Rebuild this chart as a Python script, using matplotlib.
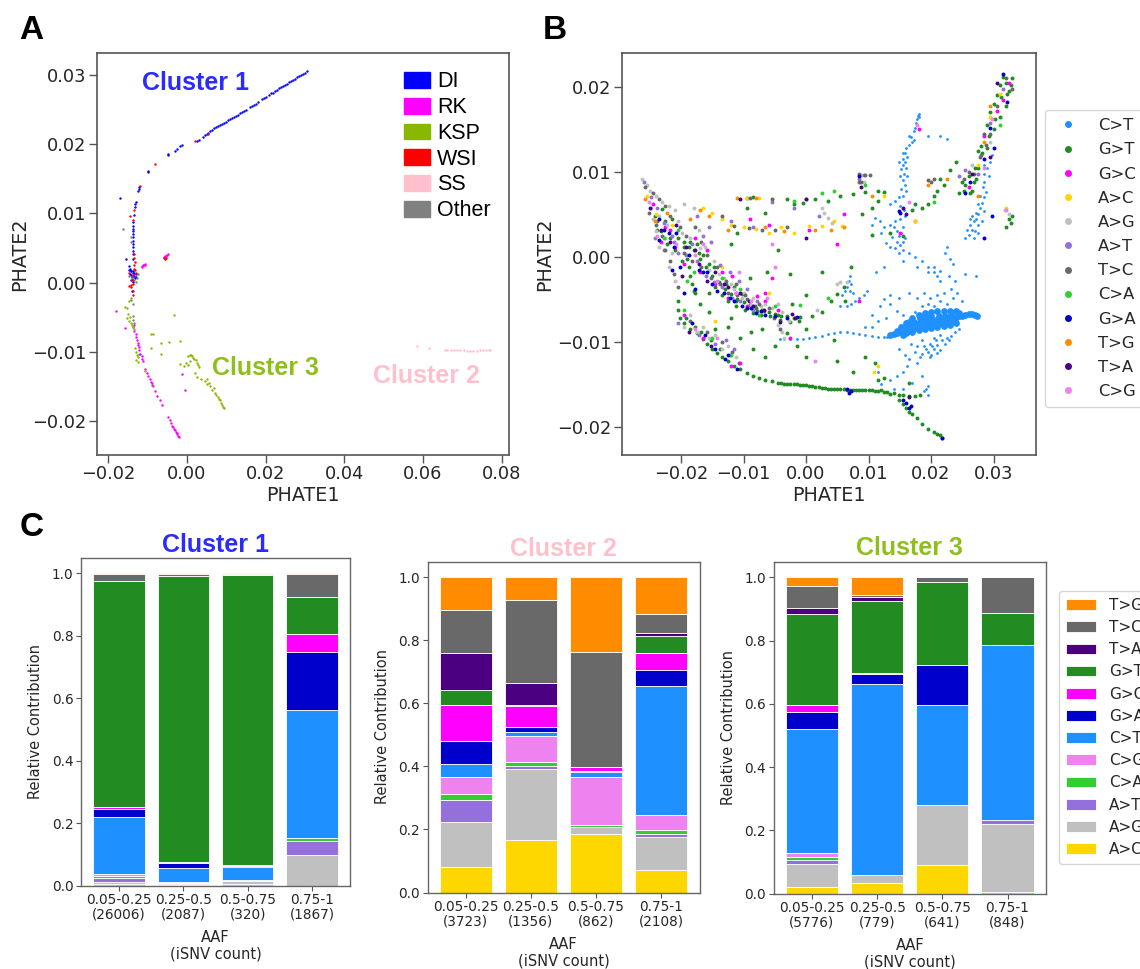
import matplotlib
matplotlib.use("Agg")
import matplotlib.pyplot as plt
from matplotlib.lines import Line2D
from matplotlib.patches import Patch
import numpy as np

W, H = 1140, 969
TXT = "#262626"
SPINE = "#555555"

# panel A points
DI = [(.0025,.0205),(.0032,.0207),(.004,.0211),(.0045,.0213),(.005,.0215),(.0055,.0217),(.006,.0219),(.0065,.0221),(.007,.0223),(.0075,.0225),
      (.008,.0226),(.0085,.0228),(.009,.0229),(.0095,.0231),(.010,.0232),(.0105,.0235),(.011,.0237),(.0115,.0238),(.012,.0240),(.0125,.0241),
      (.013,.0243),(.0135,.0245),(.014,.0247),(.0145,.0249),(.015,.025),(.016,.0254),(.0165,.0256),(.017,.0257),(.0175,.0259),
      (.018,.0261),(.019,.0265),(.0195,.0267),(.020,.0268),(.021,.0272),(.0215,.0274),(.022,.0275),(.0225,.0277),
      (.023,.0279),(.0235,.0281),(.024,.0283),(.0245,.0285),(.025,.0286),(.0255,.0288),(.026,.029),(.0265,.0292),(.027,.0293),(.0275,.0295),
      (.028,.0297),(.0285,.0299),(.029,.03),(.0295,.0302),(.030,.0304),(.0305,.0306),
      (-.0047,.0186),(-.0047,.0184),(-.003,.0191),(-.0025,.0193),(-.0018,.0197),(-.0011,.0199),(-.0099,.016),(-.0098,.0162),
      (-.0121,.0139),(-.0122,.0135),(-.0123,.0133),(-.017,.0122),(-.0129,.0117),(-.0131,.0113),(-.0132,.0109),(-.0135,.0098),
      (-.0136,.0088),(-.0137,.0082),(-.0137,.0078),(-.0138,.0074),(-.0137,.007),(-.0138,.0066),(-.0138,.006),(-.0137,.0056),(-.0137,.0052),(-.0136,.0046),
      (-.0137,.0042),(-.0137,.0034),(-.0155,.0034),(-.0148,.0024),(-.0144,.002),(-.0142,.0016),(-.0138,.0014),(-.0145,.0012),(-.0134,.001),(-.014,.0008),
      (-.0132,.0006),(-.0138,.0004),(-.0142,.0016),(-.013,.0012),(-.0136,.0001),(-.0139,-.0012),(-.0147,.0018),(-.0141,.0011),(-.0128,.0008),(-.0136,.0016),(-.0133,.0014),(-.0143,.0003)]
RK = [(-.0127,-.0083),(-.0125,-.0087),(-.0124,-.009),(-.0122,-.0094),(-.0121,-.0097),(-.0118,-.0103),(-.0115,-.0106),(-.0113,-.011),(-.0111,-.0114),(-.0107,-.0125),
      (-.0102,-.0131),(-.0098,-.0135),(-.0094,-.014),(-.0092,-.0144),(-.0088,-.0149),(-.0082,-.0157),(-.0076,-.0165),(-.0068,-.017),(-.0064,-.0178),(-.0047,-.0195),
      (-.0044,-.0199),(-.004,-.0203),(-.0037,-.0207),(-.0035,-.0209),(-.0032,-.0212),(-.003,-.0214),(-.0028,-.0216),(-.0026,-.0218),(-.0024,-.022),(-.0022,-.0222),(-.0021,-.0223),
      (-.018,-.0041),(-.0158,-.0066),(-.0135,-.0062),(-.0133,-.007),(-.013,-.0075),(-.0128,-.0079),
      (-.0115,.0023),(-.0113,.0024),(-.0111,.0025),(-.0109,.0025),(-.0107,.0026),(-.0105,.0027),
      (-.0059,.0037),(-.0056,.0038),(-.0053,.0039),(-.005,.004),(-.0049,.0041),(-.0012,-.0133),(-.0005,-.0156)]
KSP = [(.0003,-.0107),(.0007,-.0105),(.001,-.0105),(.0014,-.0106),(.0016,-.0109),(.0019,-.0111),(.0023,-.0112),(.0026,-.0116),(.0029,-.0119),(.0031,-.0122),
       (-.0017,-.0118),(-.0008,-.0121),(-.0003,-.0117),(.0008,-.0114),(.0004,-.012),(.0022,-.0131),(.0026,-.0137),(.0035,-.0139),(.0045,-.0143),(.0051,-.014),
       (.0052,-.0147),(.0056,-.0146),(.0059,-.015),(.0064,-.0155),(.0068,-.0152),(.0072,-.016),(.0075,-.0163),(.0078,-.0166),(.0081,-.0168),(.0084,-.017),
       (.0087,-.0174),(.009,-.0177),(.0093,-.018),(.0095,-.0182),
       (-.0032,-.0047),(-.0017,-.0085),(-.0045,-.0086),(-.0065,-.0087),(-.0092,-.0075),(-.0087,-.0074),(-.0091,-.0095),(-.0066,-.0104),
       (-.0157,-.0035),(-.0153,-.0037),(-.015,-.0045),(-.0152,-.0052),(-.0148,-.0055),(-.0145,-.005),(-.0143,-.0058),(-.014,-.0062),(-.0137,-.0065),(-.0134,-.0067),
       (-.0132,-.0095),(-.0128,-.01),(-.0127,-.0105),(-.0125,-.0108),(-.0129,-.0112),(-.0124,-.0115),(-.0105,-.0128),(-.0142,-.0022),(-.0146,-.0027)]
WSI = [(.0022,.0205),(.0055,.0215),(-.0082,.0171),(-.012,.014),(-.0134,.0105),(-.0145,.0097),(-.0137,.0091),(-.0135,.0042),(-.0135,.0036),(-.0132,.003),
       (-.0148,.0014),(-.0135,.002),(-.0131,.0018),(-.0128,.0014),(-.014,.0004),(-.0146,-.0005),(-.0142,-.0007),(-.0136,-.0002),(-.0138,-.0012),(-.0138,-.0018),
       (-.0055,.0034),(-.0057,.0036),(-.0053,.0035),(-.0134,.0026),(-.0136,.0011),(-.0141,-.0003)]
SS = [(.0585,-.0092),(.0615,-.0095),(.0655,-.0097),(.0662,-.0098),(.067,-.0098),(.068,-.0098),(.0687,-.0098),(.0695,-.0098),(.0703,-.0098),(.0712,-.0099),
      (.072,-.0099),(.0727,-.0099),(.0737,-.0099),(.0745,-.0098),(.0752,-.0098),(.076,-.0098),(.0767,-.0098),(.077,-.0098)]
OTHER = [(-.0161,.0077),(-.0143,.0066),(-.0142,.0058),(-.0146,.0009),(-.0139,.0006),(-.0133,.0003),(-.0127,.0006),(-.0125,.0012),(-.0142,-.0026),(-.0138,-.0031),
         (-.0137,-.0048),(-.0138,-.0054),(-.0134,-.0058),(-.0136,-.0064),(-.0088,-.0145),(-.0085,-.015),(-.0122,-.0103),(-.0128,.0001)]
GROUPS_A = ["DI", "RK", "KSP", "WSI", "SS", "Other"]
POINTS_A = [DI, OTHER, RK, KSP, SS, WSI]
POINT_COLORS_A = ["blue", "gray", "magenta", "#8ab800", "#ffc0cb", "red"]
LEGEND_COLORS_A = ["blue", "magenta", "#8ab800", "red", "#ffc0cb", "gray"]

# panel B points by substitution
CT = [(.0155,.0115),(.0158,.0122),(.016,.0128),(.0162,.0118),(.0165,.0132),(.0168,.0141),(.017,.0135),(.0172,.0148),(.0174,.0152),(.0176,.0158),(.0178,.0162),(.018,.0168),(.0181,.0165),(.0179,.0166),
      (.0155,.0108),(.0152,.0103),(.0157,.0098),(.015,.0095),(.0155,.009),(.0158,.0085),(.0152,.008),(.016,.0078),(.0155,.0072),(.0148,.007),(.0142,.0066),(.0135,.0062),(.015,.006),(.0156,.0055),(.0158,.0048),(.015,.0045),
      (.0142,.0042),(.0135,.0038),(.0125,.0035),(.0118,.0042),(.011,.0046),(.0105,.0038),(.0145,.003),(.0152,.0028),(.0138,.0024),(.0145,.0018),(.015,.0014),(.0142,.001),(.0155,.0008),(.0148,.0005),(.0128,.0016),(.012,.0028),
      (.0285,.0098),(.029,.0105),(.0295,.0112),(.0298,.012),(.0285,.0088),(.0283,.0082),(.0288,.0076),(.0285,.007),(.0282,.0063),(.0279,.0058),(.0285,.0054),(.0275,.005),(.0272,.0045),(.0268,.0042),(.0263,.0038),(.0275,.0038),(.0265,.0032),(.027,.003),(.026,.0026),(.0255,.0022),
      (.0225,.0012),(.0222,.0005),(.023,-.0002),(.0235,-.0008),(.0195,-.0018),(.0205,-.0018),(.021,-.0022),(.0215,-.0016),(.0155,-.0005),(.0178,-.0012),(.0125,-.0012),(.0112,-.0018),(.0272,-.0022),(.0255,-.002),
      (.007,-.0022),(.0068,-.0028),(.0072,-.0032),(.0065,-.0035),(.007,-.004),(.0062,-.004),(.0075,-.0042),(.0058,-.0045),(.0098,-.004),(.0092,-.0045),(.0085,-.0048),(.0078,-.0052),(.0072,-.0055),(.0065,-.0058),(.0055,-.0058),
      (-.0042,-.0096),(-.0035,-.0096),(-.0025,-.0097),(-.0015,-.0096),(-.0005,-.0096),(.0005,-.0095),(.0015,-.0094),(.0025,-.0093),(.0035,-.0091),(.0045,-.0089),(.0055,-.0088),(.0065,-.0088),(.0075,-.0089),(.0085,-.0091),(.0095,-.0092),(.0105,-.0093),(.0115,-.0094),(.0125,-.0094),(.013,-.0094),
      (.0175,-.0065),(.0185,-.0058),(.0195,-.0055),(.0205,-.0058),(.0215,-.0052),(.0225,-.0055),(.0235,-.0048),(.0155,-.0068),(.0145,-.0063),(.0135,-.0055),(.0125,-.005),(.025,-.0052),(.0205,-.0095),(.0215,-.0092),(.0225,-.0095),(.0185,-.0098),
      (.0198,-.0102),(.0205,-.0108),(.021,-.0103),(.0215,-.0109),(.0222,-.0102),(.0195,-.0112),(.02,-.0115),(.021,-.0113),(.0185,-.0114),(.0192,-.0108),(.0175,-.0112),(.0228,-.0098),(.0232,-.0093),(.0178,-.0125),(.0165,-.012),(.0155,-.0135),(.0145,-.014),(.0135,-.0145),(.017,-.0148),(.0185,-.014),(.0195,-.0152),(.0155,-.0155),(.014,-.0155),(.012,-.015),(.0115,-.0135),(.0195,-.0162),(.0188,-.0158),(.0192,-.0155),
      (.0165,-.0042),(.0178,-.0048),(.0188,-.0042),(.0198,-.0048),(.021,-.0045),(.022,-.0042),(.0232,-.0038),(.0242,-.0042),(.0148,-.0048),(.0135,-.0045),(.0118,-.0058),(.0105,-.0068),(.0115,-.0075),(.0128,-.0072),(.0095,-.0082),(.0105,-.0082),(.0148,-.0108),(.0158,-.0115),(.0168,-.0102),(.0162,-.0128),(.0178,-.0105),(.0188,-.0105),(.0202,-.0105),(.0198,-.0118),(.0182,-.0118),(.0208,-.0098),(.0218,-.0098),(.0238,-.0088),(.0245,-.0085),
      (.0155,.0035),(.0158,.0022),(.0135,.0012),(.0148,.0025),(.014,.0035),(.0155,.0018),(.0165,.0005),(.0175,.0),(.0185,-.0005),(.0195,-.0012),(.0205,-.0012),(.0215,-.0028),(.0228,-.0022),(.0238,-.0028),(.0265,.0048),(.0275,.0062),(.0278,.0072),(.0272,.0052),(.0262,.0045),(.0258,.0032),(.0268,.0022),(.0275,.0028),(.0282,.0042),(.0292,.0095),(.0285,.0108),
      (.0165,.0142),(.0195,.0142),(.0215,.0142),(.0225,.0139),(.0172,.0138),(.0155,.0122),(.0158,.0112),(.016,.0105),(.0162,.0095),(.0148,.0112)]
CT_CORE = [(.0135,-.0092),(.014,-.0091),(.0145,-.009),(.015,-.0088),(.0155,-.0086),(.016,-.0085),(.0165,-.0083),(.017,-.0081),(.0175,-.008),(.018,-.0078),(.0185,-.0076),(.019,-.0075),(.0195,-.0075),(.02,-.0074),(.0205,-.0074),(.021,-.0074),(.0215,-.0074),(.022,-.0075),(.0225,-.0074),(.023,-.0073),(.0235,-.0072),(.024,-.0071),(.0245,-.007),(.025,-.0069),(.0255,-.0068),(.026,-.0067),(.0265,-.0067),(.027,-.0068),(.0273,-.0069),
           (.016,-.0078),(.017,-.0072),(.018,-.0068),(.019,-.0066),(.02,-.0065),(.021,-.0064),(.022,-.0063),(.023,-.0064),(.024,-.0064),(.016,-.009),(.017,-.0088),(.018,-.0086),(.019,-.0085),(.02,-.0084),(.021,-.0082),(.022,-.0081),(.023,-.008),(.024,-.0078),(.0155,-.0092),(.0165,-.0076),
           (.0145,-.0087),(.0152,-.0082),(.0158,-.0082),(.0165,-.0087),(.0172,-.0077),(.0175,-.0084),(.0182,-.0072),(.0185,-.0082),(.0192,-.0071),(.0195,-.008),(.02,-.007),(.0205,-.0079),(.0212,-.0069),(.0215,-.0078),(.0222,-.0069),(.0228,-.0077),(.0232,-.0068),(.0238,-.0075),(.0245,-.0066)]
GT = [(-.0205,-.0052),(-.0205,-.0062),(-.0202,-.0072),(-.0195,-.0078),(-.0185,-.0085),(-.0175,-.009),(-.0165,-.0096),(-.0158,-.0102),(-.015,-.0108),(-.0142,-.0113),(-.0135,-.0118),(-.0125,-.0122),(-.0115,-.0128),(-.0105,-.0132),(-.0095,-.0137),(-.0085,-.014),(-.0075,-.0142),(-.0065,-.0145),(-.0055,-.0146),(-.0045,-.0148),
      (-.004,-.0148),(-.0035,-.0149),(-.003,-.0149),(-.0025,-.015),(-.002,-.015),(-.0015,-.015),(-.001,-.0151),(-.0005,-.0151),(.0,-.0151),(.0005,-.0152),(.001,-.0152),(.0015,-.0153),(.002,-.0153),(.0025,-.0154),(.003,-.0154),(.0035,-.0155),(.004,-.0155),(.0045,-.0155),(.005,-.0155),(.0055,-.0155),(.006,-.0155),(.0065,-.0156),(.007,-.0156),(.0075,-.0156),(.008,-.0156),(.0085,-.0156),(.009,-.0157),(.0095,-.0157),(.01,-.0157),(.0105,-.0157),(.011,-.0158),(.0115,-.0158),(.012,-.0157),(.0125,-.0159),(.013,-.0159),(.0135,-.0161),(.014,-.016),(.0148,-.0162),(.0155,-.0162),(.0165,-.0163),(.0175,-.0163),(.0182,-.0162),
      (.0148,-.0168),(.0155,-.0173),(.016,-.0178),(.0165,-.0182),(.017,-.0185),(.0178,-.019),(.0185,-.0196),(.0195,-.0202),(.0205,-.0206),(.021,-.0208),(.0215,-.021),(.0218,-.0213),
      (-.0195,.0012),(-.019,-.0002),(-.0188,-.0012),(-.0185,-.0022),(-.0182,-.0032),(-.018,-.004),(-.0178,-.0042),
      (-.023,.0056),(-.0215,.0045),(-.0205,.0022),(-.0195,.0018),(-.018,.0008),(-.017,-.0002),(-.016,-.0012),(-.015,-.0022),(-.014,-.003),(-.013,-.0038),(-.012,-.0044),(-.011,-.0049),(-.01,-.0053),(-.009,-.0056),(-.008,-.006),(-.007,-.0062),(-.006,-.0065),(-.005,-.0067),(-.004,-.007),(-.003,-.007),(-.002,-.0072),(-.001,-.0071),(.001,-.007),(.0025,-.0065),(.004,-.0052),(.005,-.0044),(.006,-.0035),
      (.0255,.0085),(.026,.0095),(.027,.0105),(.0275,.0125),(.028,.013),(.0285,.0145),(.029,.0155),(.0295,.017),(.03,.018),(.0305,.019),(.031,.0202),(.0315,.0212),(.032,.0205),(.0325,.0195),(.033,.021),(.032,.0178),(.031,.0165),(.03,.015),(.029,.0128),(.0275,.0105),(.0265,.0078),(.0245,.0075),(.025,.0088),(.023,.0102),(.024,.0112),(.022,.0085),(.021,.0078),(.0205,.0072),(.0195,.0062),(.0185,.0058),
      (.0215,.0092),(.017,.0055),(.0135,.0028),(.0105,.0026),(.009,.005),(.0105,.0058),(.0115,.0066),(.0125,.0076),(.0115,.0078),(.0095,.0076),(.0075,.0074),(.0055,.0072),(.0035,.0066),(.0015,.0068),(-.0005,.0064),(-.002,.0062),(-.003,.0068),(-.0095,.0069),(-.0085,.007),(-.0095,.0058),(-.0065,.0052),(-.011,.0028),(-.012,.0015),
      (.0325,.0045),(.033,.0048),(.0328,.004),(.032,.0035),(-.0115,-.0035),(-.009,-.0025),(-.007,-.0085),(-.005,-.0105),(-.003,-.009),(.0,-.0085),(.005,-.0122),(.0075,-.0135),(.011,-.0125),(-.0155,-.0065),(-.0145,-.0085),(-.012,-.0072),(-.017,-.0055),(.0155,.0025),(.0175,.0062),(.0165,-.0148),(.0125,-.0142),(-.0045,.0008),(-.0025,-.002),
      (-.0225,.0042),(-.0238,.0032),(-.0222,.0015),(-.021,.0008),(-.0198,-.0005),(-.0188,.0012),(-.0175,.0015),(-.0165,.0002),(-.0155,-.0008),(-.0145,-.0035),(-.0135,-.0045),(-.0125,-.0052),(-.0112,-.0058),(-.0098,-.0062),(-.0085,-.0066),(-.0072,-.0068),(-.0058,-.0069),(-.0042,-.0074),(-.0025,-.0076),(-.0012,-.0075),(-.0192,-.0072),(-.0178,-.0082),(-.0168,-.0088),(-.0152,-.0098),(-.0138,-.0108),(-.0122,-.0115),(-.0108,-.0125),(.0062,-.0052),(.0072,-.0012),(-.0155,-.0042),(-.0125,-.0082),(-.0105,-.0095),(-.0085,-.0108),(-.0065,-.0118),(-.0045,-.0068),(-.0022,-.0055),(.0,-.0045),(.0025,-.0018),(-.0062,-.0018),(-.0088,-.0088),(.0095,-.0118),(.0115,-.0145),(.0045,-.0098),(-.0015,-.0105),(.0,-.0118),
      (-.0242,.0048),(-.0232,.003),(-.0218,.0022),(-.0185,.0018),(-.0172,.0005),(-.0148,-.0012),(-.0128,-.0032),(-.0102,-.0044),(-.0078,-.0064),(-.0112,-.0052),(.0268,.0088),(.0282,.0122),(.0292,.0142),(.0302,.0162),(.0312,.0188),(.0322,.0192),(.0328,.0202),(.0272,.0092),(.0262,.0075),(.0252,.0078)]
GC = [(-.0245,.0062),(-.0225,.0035),(-.021,.0012),(-.0195,-.0008),(-.017,-.0018),(-.0145,-.0032),(-.0125,-.0048),(-.0095,-.0058),(-.0065,-.0052),(-.0045,-.0062),(-.009,.0045),(-.006,.0038),(.0005,.0032),(.006,.005),(.015,.0028),(.026,.0082),(.0285,.0142),(.0305,.0172),(.0315,.0185),(.0325,.0205),
      (-.0195,-.0068),(-.0165,-.0095),(-.012,-.0128),(-.0105,-.0125),(-.0055,-.0025),(-.0025,-.0095),(.005,.0015),(.0085,-.0052),(.0175,.0042),(.018,.015),(-.0232,.0018),(-.0218,.0032),(-.0178,.0022),(-.0158,.0008),(-.0118,-.0022),(-.0078,-.0046),(-.0135,-.0018),(-.0065,-.0042)]
AC = [(-.0255,.0072),(-.024,.005),(-.0215,.0038),(-.0165,.0058),(-.015,.0052),(-.0135,.0045),(-.012,.0038),(-.01,.0035),(-.008,.0033),(-.006,.0028),(-.004,.0035),(-.002,.0028),(.0005,.0036),(.0025,.0036),(.0045,.0042),(.0058,.0036),(-.0095,.0069),(-.0075,.0069),(-.0055,.0068),(-.0145,-.0075),
      (.0115,-.0128),(.0108,-.0135),(.031,.0192),(.0295,.0165),(.0275,.0108),(.032,.0058),(.0175,.0042),(.0125,.0072),(-.0135,-.0012),(-.006,-.0042)]
AG = [(-.0262,.0092),(-.0255,.0085),(-.025,.0078),(-.024,.0072),(-.023,.0065),(-.022,.006),(-.021,.0055),(-.0195,.0062),(-.018,.0058),(-.0245,.0045),(-.024,.003),(-.0235,.0012),(-.0225,.0022),(-.0215,.0005),(-.022,-.0012),(-.021,-.0028),(-.017,.001),(-.0155,-.0015),(-.014,-.002),(-.012,-.0032),
      (-.01,-.0042),(-.0085,-.0048),(-.0065,-.0055),(-.0045,-.0055),(-.0028,-.0075),(-.0045,-.008),(-.0038,-.0088),(-.0035,-.0095),(.0025,.0058),(.0028,.0052),(.0035,.0046),(.0042,.004),(.005,-.0032),(.0055,-.003),(.0318,.0055),(.0325,.005),(-.0195,-.0082),(-.0175,-.0088),(-.0155,-.0095),(-.0135,-.0108),(.0295,.0135),(.0265,.0108),(.0088,.0096),(.0092,.0088),
      (-.0248,.0058),(-.0235,.0048),(-.0222,.0038),(-.0205,.0042),(-.0198,.0028),(-.0185,.0022),(-.0172,.0032),(-.0162,.0012),(-.0148,-.0005),(-.0132,-.0025),(-.0115,-.0038),(-.0102,-.0048),(-.0088,-.0056),(-.0072,-.0058),(-.0055,-.006),(-.0038,-.0065),(-.0185,-.0068),(-.0165,-.0082),(-.0145,-.0092),(-.0125,-.0105),(-.0112,-.0118),(.0018,-.0062),(.0065,-.003)]
AT = [(-.026,.0088),(-.0248,.007),(-.0238,.0058),(-.0228,.004),(-.0215,.0025),(-.0205,.0005),(-.0192,.0002),(-.0175,-.0005),(-.016,-.0022),(-.0148,-.003),(-.0135,-.0035),(-.0118,-.0048),(-.0105,-.0052),(-.0085,-.0062),(-.0175,.0048),(-.0155,.0035),(-.012,.0042),(-.0085,.0035),(-.0055,.0065),(-.002,.0058),
      (.002,.0048),(.0085,.0092),(.0092,.0096),(.0245,.0095),(.0255,.0102),(.0275,.0098),(.0295,.0158),(.0315,.0198),(-.0205,-.0078),(-.0172,-.0092),(-.0145,-.0102),(-.0242,.0022),(-.0228,.0008),(-.0212,.0018),(-.0182,.0015),(-.0165,.0025),(-.0152,.0018),(-.0138,-.001),(-.0122,-.0018),(-.0108,-.0028),(-.0095,-.0038),(-.0078,-.0052),(-.0128,-.0098),(-.0115,-.0108)]
TC = [(-.0258,.0082),(-.0245,.0075),(-.0235,.0068),(-.0225,.006),(-.024,.0038),(-.023,.0025),(-.0225,.0008),(-.0218,-.0005),(-.0212,-.002),(-.0205,-.0035),(-.0195,.0005),(-.0182,-.0005),(-.0168,-.0012),(-.0152,-.0025),(-.0138,-.0032),(-.0125,-.0042),(-.011,-.0045),(-.0095,-.005),(-.0075,-.0055),(-.006,-.006),
      (-.0135,.0048),(-.0115,.0036),(-.0092,.0034),(-.007,.0032),(-.005,.0032),(-.003,.0035),(.0084,.0098),(.0085,.0088),(.0088,.0088),(.0095,.0096),(.0102,.0096),(.0195,.009),(.02,.0088),(.0205,.0092),(.0252,.0092),(.026,.01),(.028,.012),(.0295,.0145),(.0305,.0178),(.032,.021),(.033,.0198),(-.0042,-.0085),(-.0055,.0068),(-.009,.0069),
      (-.0252,.0052),(-.0238,.0042),(-.0218,.0048),(-.0202,.0035),(-.0192,.0025),(-.0178,.0035),(-.0168,.0018),(-.0158,.0002),(-.0142,-.0012),(-.0128,-.0028),(-.0112,-.0032),(-.0098,-.0045),(-.0082,-.0058),(-.0068,-.0064),(-.0052,-.0072),(-.0185,-.0075),(-.0158,-.0088),(-.0135,-.01),(-.0118,-.0112),(.0288,.0132),(.0278,.0118),(.0268,.0098)]
CA = [(-.0228,.0022),(-.0205,.0032),(-.019,-.0028),(-.018,-.0018),(-.0135,-.0025),(-.0105,-.0038),(-.0075,-.0068),(-.005,-.0058),(-.001,-.0056),(.0035,-.0048),(-.0195,-.0062),(-.015,-.0095),(-.012,-.0115),(.0095,.0085),(.0205,.0065),(.031,.0155),(-.002,.0066),(.0,.0068),(.0025,.0075),(.0045,.0078)]
GA = [(-.0235,.0045),(-.022,.0028),(-.0212,.0012),(-.0202,-.0012),(-.0195,-.0042),(-.0165,-.0018),(-.015,-.0032),(-.0132,-.0042),(-.0115,-.0052),(-.0095,-.006),(-.008,-.0066),(-.0065,-.0068),(-.005,-.007),(-.003,-.0072),(-.0015,-.0071),(-.0182,-.0078),(-.0162,-.0092),(-.0145,-.0108),(-.013,-.012),(-.011,-.0132),
      (.0065,-.0155),(.0072,-.0158),(.0068,-.016),(.0155,-.0168),(.016,-.0172),(.0165,-.0178),(.0168,-.0175),(.015,.0052),(.0148,.0054),(.0255,.0075),(.0262,.0088),(.0285,.0115),(.03,.0128),(.0295,.0152),(.0315,.0215),(.0322,.0182),(.0298,.0048),(.0285,.0022),(.0218,-.0213),(.0085,.0095),
      (-.0228,.0032),(-.0208,.0028),(-.0188,.0002),(-.0172,-.0015),(-.0158,-.0018),(-.0142,-.004),(-.0122,-.0048),(-.0102,-.0058),(-.0088,-.006),(-.0072,-.0064),(-.0235,.002),(-.0215,-.0015),(-.0178,-.0038),(-.0125,-.0115)]
TG = [(-.0258,.0068),(-.0242,.0042),(-.0222,.0052),(-.0185,.0045),(-.017,.0055),(-.0155,.0048),(-.0125,.0032),(-.0065,.0035),(-.0035,.003),(.0015,.0032),(.004,.0032),(.006,.0035),(.0105,.0072),(.0195,.0085),(.0225,.0092),(.0285,.0135),(.0295,.0178),(-.011,.0069),(-.008,.0069),(.0275,.0072)]
TA = [(-.025,.0058),(-.0232,.0032),(-.0218,.0018),(-.0198,-.0022),(-.0172,-.0008),(-.0158,-.0028),(-.0125,-.0035),(-.0105,-.0042),(-.0085,-.0058),(-.0068,-.0062),(-.0022,-.0067),(-.0188,-.0088),(-.0152,-.0105),(.0165,-.0165),(.0155,.0058),(.016,.005),(.0265,.0098),(.0295,.0118),(.0305,.0205),(.0088,.0082),(.0,.0068),(-.0105,.0068),(.0,.0022),
      (-.0208,.0038),(-.0192,.0012),(-.0178,.0008),(-.0145,-.0018),(-.0132,-.0032),(-.0112,-.0042),(-.0092,-.0052),(-.0018,-.0072),(-.0042,-.0076)]
CG = [(-.0252,.0065),(-.0238,.0025),(-.0208,.0015),(-.0178,.0002),(-.0142,-.0028),(-.0112,-.0042),(-.0088,-.0052),(-.0062,-.0048),(-.0108,-.0018),(-.005,-.0012),(-.0165,.0015),(-.0178,-.0085),(-.0142,-.0095),(.0015,-.0122),(.032,.0055),(.0298,.0162),(.0285,.0105),(.0165,.0065),(-.0055,.0015),(.0178,.0155)]
MUTS_B = ["C>T", "G>T", "G>C", "A>C", "A>G", "A>T", "T>C", "C>A", "G>A", "T>G", "T>A", "C>G"]
POINTS_B = [CT, GT, GC, AC, AG, AT, TC, CA, GA, TG, TA, CG]

MUT_COLORS = {"A>C": "gold", "A>G": "silver", "A>T": "mediumpurple", "C>A": "limegreen", "C>G": "violet", "C>T": "dodgerblue",
              "G>A": "mediumblue", "G>C": "magenta", "G>T": "forestgreen", "T>A": "indigo", "T>C": "dimgray", "T>G": "darkorange"}

# panel C, top of every segment for each bar, bottom to top
STACK_ORDER = ["A>C", "A>G", "A>T", "C>A", "C>G", "C>T", "G>A", "G>C", "G>T", "T>A", "T>C", "T>G"]
C1_TOPS = [[.004, .011, .025, .031, .038, .219, .244, .250, .974, .975, .998, 1.0],
           [.002, .004, .009, .009, .011, .057, .073, .074, .991, .992, .998, 1.0],
           [.005, .014, .015, .016, .018, .058, .064, .066, .993, .994, .998, 1.0],
           [.000, .097, .143, .151, .153, .562, .748, .805, .922, .925, .997, 1.0]]
C2_TOPS = [[.080, .223, .295, .313, .366, .407, .482, .595, .643, .760, .897, 1.0],
           [.168, .392, .402, .413, .497, .510, .525, .592, .595, .665, .928, 1.0],
           [.185, .207, .209, .215, .365, .381, .387, .397, .398, .399, .764, 1.0],
           [.070, .175, .187, .198, .245, .655, .705, .760, .814, .822, .882, 1.0]]
C3_TOPS = [[.019, .092, .105, .116, .127, .520, .575, .597, .883, .903, .972, 1.0],
           [.034, .057, .058, .058, .058, .664, .693, .696, .926, .937, .943, 1.0],
           [.090, .280, .280, .280, .280, .595, .722, .723, .984, .985, 1.0, 1.0],
           [.006, .220, .232, .232, .232, .787, .787, .787, .887, .888, 1.0, 1.0]]
AAF_BINS = ["0.05-0.25", "0.25-0.5", "0.5-0.75", "0.75-1"]
C1_COUNTS = [26006, 2087, 320, 1867]
C2_COUNTS = [3723, 1356, 862, 2108]
C3_COUNTS = [5776, 779, 641, 848]


def add_ax(fig, left, right, top, bottom):
    return fig.add_axes([left / W, 1 - bottom / H, (right - left) / W, (bottom - top) / H])


def style_ax(ax, size):
    for s in ax.spines.values():
        s.set_color(SPINE)
        s.set_linewidth(1.2)
    ax.tick_params(labelsize=size, colors=TXT, color=SPINE)


def scatter_panel(ax, groups, colors, sizes):
    for pts, col, size in zip(groups, colors, sizes):
        arr = np.array(pts)
        ax.scatter(arr[:, 0], arr[:, 1], s=size, color=col, linewidths=0)


def stacked_panel(ax, tops, counts, title, title_color, title_pad):
    tops = np.array(tops)
    bottoms = np.hstack([np.zeros((4, 1)), tops[:, :-1]])
    x = np.arange(4)
    for i, mut in enumerate(STACK_ORDER):
        ax.bar(x, tops[:, i] - bottoms[:, i], 0.8, bottoms[:, i], color=MUT_COLORS[mut], edgecolor="white", linewidth=0.6, label=mut)
    ax.set_xlim(-0.59, 3.59)
    ax.set_ylim(0, 1.05)
    ax.set_xticks(x, [f"{b}\n({c})" for b, c in zip(AAF_BINS, counts)], linespacing=1.05)
    ax.set_yticks([0, .2, .4, .6, .8, 1.0])
    style_ax(ax, 9.8)
    for s in ax.spines.values():
        s.set_color("#666666")
        s.set_linewidth(1.0)
    ax.tick_params(axis="both", length=3.5, pad=2)
    ax.set_ylabel("Relative Contribution", fontsize=10.5, color=TXT, labelpad=6)
    ax.set_xlabel("AAF\n(iSNV count)", fontsize=10.5, color=TXT, labelpad=6, linespacing=1.1)
    ax.set_title(title, fontsize=18, fontweight="bold", family="Liberation Sans", color=title_color, pad=title_pad)


fig = plt.figure(figsize=(W / 100, H / 100), dpi=100)

# A
ax_a = add_ax(fig, 96.5, 509, 53, 455)
scatter_panel(ax_a, POINTS_A, POINT_COLORS_A, [3] * 6)
ax_a.set_xlim(-0.02295, 0.08186)
ax_a.set_ylim(-0.02497, 0.03323)
ax_a.set_xticks([-.02, 0, .02, .04, .06, .08])
ax_a.set_yticks([-.02, -.01, 0, .01, .02, .03])
ax_a.xaxis.set_major_formatter("{x:.2f}")
ax_a.yaxis.set_major_formatter("{x:.2f}")
style_ax(ax_a, 12.8)
ax_a.tick_params(length=5.5, width=1, pad=2)
ax_a.set_xlabel("PHATE1", fontsize=13.8, color=TXT, labelpad=2)
ax_a.set_ylabel("PHATE2", fontsize=13.8, color=TXT, labelpad=2)
handles_a = [Patch(color=c, label=g) for g, c in zip(GROUPS_A, LEGEND_COLORS_A)]
ax_a.legend(handles=handles_a, loc="upper left", bbox_to_anchor=(404 / W - 0.006, 1 - 65 / H), bbox_transform=fig.transFigure,
            frameon=False, prop={"family": "Liberation Sans", "size": 15.5}, handlelength=1.22, handleheight=0.75, handletextpad=0.34, labelspacing=0.22, borderpad=0.3, borderaxespad=0)
fig.text(142 / W, 1 - 90 / H, "Cluster 1", fontsize=18, fontweight="bold", family="Liberation Sans", color="#2b2bff")
fig.text(212 / W, 1 - 375 / H, "Cluster 3", fontsize=18, fontweight="bold", family="Liberation Sans", color="#8fbf1a")
fig.text(373 / W, 1 - 383 / H, "Cluster 2", fontsize=18, fontweight="bold", family="Liberation Sans", color="#ffc0cb")

# B
ax_b = add_ax(fig, 622, 1036, 53, 455)
scatter_panel(ax_b, POINTS_B, [MUT_COLORS[m] for m in MUTS_B], [4] + [8] * 11)
core = np.array(CT_CORE)
ax_b.scatter(core[:, 0], core[:, 1], s=24, color=MUT_COLORS["C>T"], linewidths=0)
ax_b.set_xlim(-0.02944, 0.0368)
ax_b.set_ylim(-0.0233, 0.024)
ax_b.set_xticks([-.02, -.01, 0, .01, .02, .03])
ax_b.set_yticks([-.02, -.01, 0, .01, .02])
ax_b.xaxis.set_major_formatter("{x:.2f}")
ax_b.yaxis.set_major_formatter("{x:.2f}")
style_ax(ax_b, 12.8)
ax_b.tick_params(length=5.5, width=1, pad=2)
ax_b.set_xlabel("PHATE1", fontsize=13.8, color=TXT, labelpad=2)
ax_b.set_ylabel("PHATE2", fontsize=13.8, color=TXT, labelpad=2)
handles_b = [Line2D([], [], ls="", marker="o", ms=5, mew=0, color=MUT_COLORS[m], label=m) for m in MUTS_B]
leg_b = ax_b.legend(handles=handles_b, loc="upper left", bbox_to_anchor=(1045 / W, 1 - 110 / H), bbox_transform=fig.transFigure,
                    fontsize=11.8, borderaxespad=0, labelspacing=0.56, handletextpad=0.95, borderpad=0.5, handlelength=1.8)
for t in leg_b.get_texts():
    t.set_color(TXT)

# C
ax_c1 = add_ax(fig, 81, 350, 557.5, 885.5)
ax_c2 = add_ax(fig, 427.5, 699.5, 561.5, 892.5)
ax_c3 = add_ax(fig, 773.5, 1046, 561.5, 893.5)
stacked_panel(ax_c1, C1_TOPS, C1_COUNTS, "Cluster 1", "#2b2bff", 2)
stacked_panel(ax_c2, C2_TOPS, C2_COUNTS, "Cluster 2", "#ffc0cb", 3)
stacked_panel(ax_c3, C3_TOPS, C3_COUNTS, "Cluster 3", "#8fbf1a", 5)
h, l = ax_c3.get_legend_handles_labels()
leg_c = ax_c3.legend(h[::-1], l[::-1], loc="upper left", bbox_to_anchor=(1059 / W, 1 - 591 / H), bbox_transform=fig.transFigure,
                     fontsize=11, borderaxespad=0, labelspacing=0.47, handlelength=2.0, handleheight=0.7, handletextpad=0.8, borderpad=0.45)
for t in leg_c.get_texts():
    t.set_color(TXT)

# panel letters
for letter, x, y in [("A", 19, 39), ("B", 543, 39), ("C", 20, 536)]:
    fig.text(x / W, 1 - y / H, letter, fontsize=24, fontweight="bold", family="Liberation Sans", color="black")

fig.savefig("out.png", dpi=100)
